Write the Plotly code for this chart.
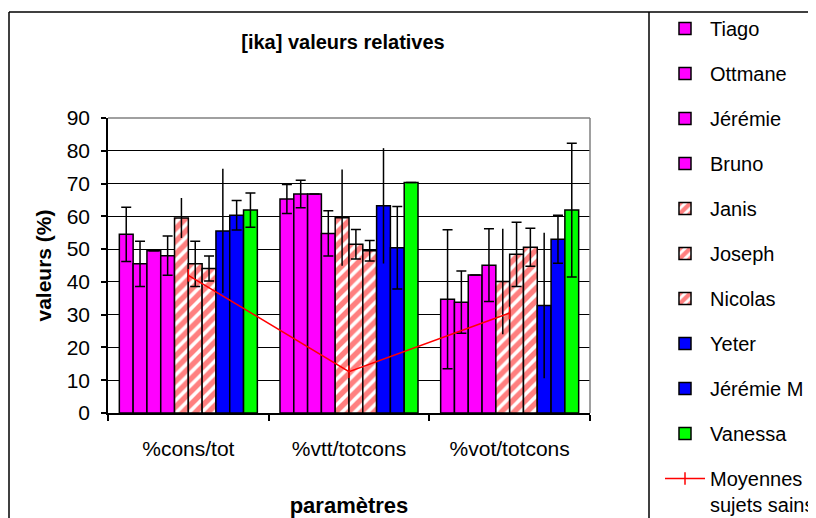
import plotly.graph_objects as go

categories = ["%cons/tot", "%vtt/totcons", "%vot/totcons"]

names = ["Tiago", "Ottmane", "Jérémie", "Bruno", "Janis", "Joseph", "Nicolas",
         "Yeter", "Jérémie M", "Vanessa"]

tiago = [54.5, 65.3, 34.7]
ottmane = [45.5, 66.8, 33.8]
jeremie = [49.5, 66.8, 42.1]
bruno = [48.0, 54.8, 45.1]
janis = [59.5, 59.6, 40.1]
joseph = [45.5, 51.5, 48.4]
nicolas = [44.1, 49.5, 50.6]
yeter = [55.5, 63.2, 32.8]
jeremie_m = [60.3, 50.4, 53.0]
vanessa = [61.9, 70.3, 61.9]

err_tiago = [8.3, 4.4, 21.2]
err_ottmane = [6.9, 4.2, 9.5]
err_jeremie = [None, None, None]
err_bruno = [6.0, 6.9, 11.1]
err_janis = [6.1, 14.7, 16.1]
err_joseph = [6.9, 4.5, 9.8]
err_nicolas = [3.8, 3.1, 5.8]
err_yeter = [19.0, 17.6, 22.2]
err_jeremie_m = [4.5, 12.6, 7.3]
err_vanessa = [5.2, None, 20.4]

moyennes = [42.0, 12.6, 30.5]

values = [tiago, ottmane, jeremie, bruno, janis, joseph, nicolas, yeter, jeremie_m, vanessa]
errors = [err_tiago, err_ottmane, err_jeremie, err_bruno, err_janis, err_joseph,
          err_nicolas, err_yeter, err_jeremie_m, err_vanessa]
kinds = ["mag", "mag", "mag", "mag", "stripe", "stripe", "stripe", "blue", "blue", "green"]
capw = [5, 5, 5, 5, 0, 5, 5, 0, 5, 5]

FONT = "Liberation Sans, Arial, sans-serif"

fig = go.Figure()
for i, (nm, v, e, k) in enumerate(zip(names, values, errors, kinds)):
    if k == "stripe":
        marker = dict(color="white",
                      pattern=dict(shape="/", fgcolor="#FF0000", bgcolor="white",
                                   size=9, solidity=0.6),
                      line=dict(color="black", width=1.5))
    else:
        col = {"mag": "#FF00FF", "blue": "#0000FF", "green": "#00FF00"}[k]
        marker = dict(color=col, line=dict(color="black", width=1.5))
    fig.add_trace(go.Bar(
        name=nm, x=categories, y=v, marker=marker,
        error_y=dict(type="data", array=e, visible=True, color="black",
                     thickness=1.5, width=capw[i]),
        legendgroup=nm,
    ))

fig.add_trace(go.Scatter(
    name="Moyennes<br>sujets sains", x=categories, y=moyennes,
    mode="lines+markers",
    line=dict(color="#FF0000", width=1.5),
    marker=dict(symbol="line-ns", size=9, line=dict(color="#FF0000", width=1.5)),
    legendgroup="moy",
))

# page body has an 8px margin; figure coordinates are screen - 8
W, H = 808, 510
L, R, T, B = 100, 582, 110, 405

def px(x):
    return (x - L) / (R - L)

def py(y):
    return (B - y) / (B - T)

shapes = [
    dict(type="line", xref="paper", yref="paper", x0=0, x1=1, y0=1, y1=1,
         line=dict(color="#808080", width=1.5)),
    dict(type="line", xref="paper", yref="paper", x0=1, x1=1, y0=0, y1=1,
         line=dict(color="#808080", width=1.5)),
    dict(type="line", xref="paper", yref="paper", x0=px(1), x1=px(815), y0=py(4), y1=py(4),
         line=dict(color="black", width=1.5)),
    dict(type="line", xref="paper", yref="paper", x0=px(1), x1=px(1), y0=py(4), y1=py(520),
         line=dict(color="black", width=1.5)),
    dict(type="line", xref="paper", yref="paper", x0=px(641), x1=px(641), y0=py(4), y1=py(520),
         line=dict(color="black", width=1.5)),
]

fig.update_layout(
    width=W, height=H,
    margin=dict(l=L, r=W - R, t=T, b=H - B, autoexpand=False),
    paper_bgcolor="white", plot_bgcolor="white",
    font=dict(family=FONT, color="black", size=20),
    barmode="group", bargap=0.141, bargroupgap=0,
    title=dict(text="<b>[ika] valeurs relatives</b>", x=335 / W, xanchor="center",
               xref="container", yref="container", y=1 - 34 / H, yanchor="middle",
               font=dict(size=20, family=FONT, color="black")),
    xaxis=dict(showline=True, linecolor="black", linewidth=1.5, automargin=False,
               ticks="outside", ticklen=6, tickcolor="black", tickwidth=1.5,
               tickson="boundaries", showgrid=False,
               tickfont=dict(size=21), ticklabelstandoff=16,
               title=dict(text="<b>paramètres</b>", font=dict(size=22), standoff=49)),
    yaxis=dict(range=[0, 90], dtick=10, showline=True, linecolor="black", linewidth=1.5,
               automargin=False,
               ticks="outside", ticklen=5, tickcolor="black", tickwidth=1.5,
               showgrid=True, gridcolor="black", gridwidth=1.2, zeroline=False,
               tickfont=dict(size=21), ticklabelstandoff=7,
               title=dict(text="<b>valeurs (%)</b>", font=dict(size=21), standoff=9)),
    legend=dict(xref="container", yref="container", x=652 / W, xanchor="left",
                y=1 - 1 / H, yanchor="top", font=dict(size=20),
                tracegroupgap=16, itemwidth=40, valign="top", maxheight=1,
                bgcolor="rgba(0,0,0,0)", traceorder="grouped"),
    shapes=shapes,
)

fig.write_html("out.html")
